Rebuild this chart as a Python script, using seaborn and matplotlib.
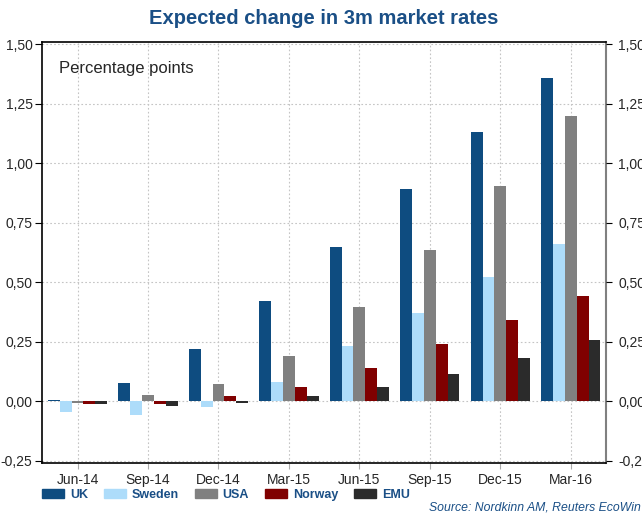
import numpy as np
import pandas as pd
import matplotlib
matplotlib.use("Agg")
import matplotlib.pyplot as plt
import seaborn as sns
from matplotlib.ticker import FuncFormatter

# =========================
# DATA
# =========================
quarters = ["Jun-14", "Sep-14", "Dec-14", "Mar-15", "Jun-15", "Sep-15", "Dec-15", "Mar-16"]
countries = ["UK", "Sweden", "USA", "Norway", "EMU"]

uk = [0.006, 0.075, 0.22, 0.42, 0.65, 0.89, 1.13, 1.36]
sweden = [-0.047, -0.057, -0.025, 0.08, 0.23, 0.37, 0.52, 0.66]
usa = [-0.008, 0.024, 0.07, 0.19, 0.395, 0.635, 0.905, 1.20]
norway = [-0.012, -0.012, 0.02, 0.06, 0.14, 0.24, 0.34, 0.44]
emu = [-0.012, -0.02, -0.006, 0.02, 0.06, 0.115, 0.18, 0.255]

colors = ["#0E4C80", "#ADDCFA", "#808080", "#800000", "#2B2B2B"]
BLUE = "#1A4F86"

df = pd.DataFrame({
    "quarter": quarters * 5,
    "country": [c for c in countries for _ in quarters],
    "value": uk + sweden + usa + norway + emu,
})

# =========================
# PLOT
# =========================
sns.set_style("white")
plt.rcParams["font.family"] = ["Liberation Sans", "DejaVu Sans"]

fig = plt.figure(figsize=(6.42, 5.15), dpi=100)
ax = fig.add_axes([0.0659, 0.101, 0.878, 0.8175])

sns.barplot(data=df, x="quarter", y="value", hue="country",
            hue_order=countries, palette=colors, width=0.84, gap=0,
            ax=ax, legend=False, saturation=1, linewidth=0)

ax.set_xlim(-0.5, 7.5)
ax.set_ylim(-0.26, 1.51)
yticks = np.arange(-0.25, 1.51, 0.25)
ax.set_yticks(yticks)
fmt = FuncFormatter(lambda v, p: f"{v:.2f}".replace(".", ","))
ax.yaxis.set_major_formatter(fmt)
ax.set_xlabel("")
ax.set_ylabel("")
ax.grid(True, color="#C4C4C4", linestyle=(0, (1.5, 2)), linewidth=0.8)
ax.set_axisbelow(True)
ax.tick_params(axis="y", labelsize=10, length=5, color="black", direction="out",
               left=True, pad=2)
ax.tick_params(axis="x", labelsize=10, length=4, color="#AAAAAA", direction="out",
               bottom=True, pad=3)
for s in ["left", "bottom", "top"]:
    ax.spines[s].set_color("black")
    ax.spines[s].set_linewidth(1.2)
ax.spines["right"].set_color("#808080")
ax.spines["right"].set_linewidth(1.5)

ax2 = ax.twinx()
ax2.set_ylim(ax.get_ylim())
ax2.set_yticks(yticks)
ax2.yaxis.set_major_formatter(fmt)
ax2.tick_params(axis="y", labelsize=10, length=4, color="black", right=True, pad=5)
for s in ax2.spines.values():
    s.set_visible(False)
ax2.grid(False)

ax.text(0.03, 0.955, "Percentage points", transform=ax.transAxes,
        fontsize=12, va="top", ha="left")

fig.text(0.504, 0.965, "Expected change in 3m market rates", ha="center", va="center",
         fontsize=14.5, fontweight="bold", color=BLUE)

handles = [plt.Rectangle((0, 0), 1, 1, color=c) for c in colors]
leg = fig.legend(handles, countries, loc="center left", bbox_to_anchor=(0.0659, 0.039),
                 ncol=5, frameon=False, handlelength=1.76, handleheight=0.8,
                 columnspacing=1.25, handletextpad=0.48, borderpad=0, borderaxespad=0,
                 prop={"weight": "bold", "size": 9})
for t in leg.get_texts():
    t.set_color(BLUE)

fig.text(0.999, 0.0155, "Source: Nordkinn AM, Reuters EcoWin", ha="right", va="center",
         fontsize=8.8, style="italic", color=BLUE)

fig.savefig("out.png", dpi=100)
